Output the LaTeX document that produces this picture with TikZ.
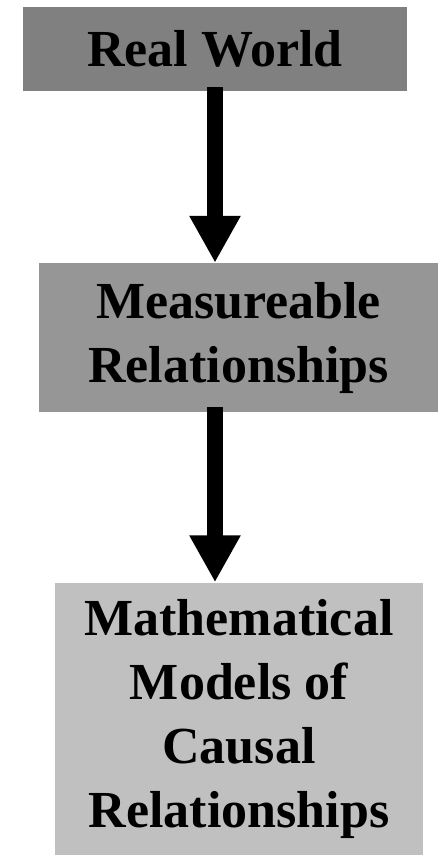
\documentclass[tikz,border=0pt]{standalone}
\usepackage{fontspec}
\setmainfont{Liberation Serif}
\usetikzlibrary{arrows.meta}
\definecolor{worldgray}{RGB}{128,128,128}
\definecolor{measgray}{RGB}{150,150,150}
\definecolor{modelgray}{RGB}{192,192,192}

\begin{document}
\begin{tikzpicture}[x=1pt, y=-1pt,
  gbox/.style={inner sep=0pt, align=center, font=\fontsize{52}{64}\selectfont\bfseries},
  fatarrow/.style={line width=16pt, -{Triangle[length=47pt, width=48pt]}}
]
  \useasboundingbox (0,0) rectangle (438,855);

  \node[gbox, fill=worldgray, minimum width=384pt, minimum height=84pt] (world) at (215, 49) {Real World};
  \node[gbox, fill=measgray, minimum width=399pt, minimum height=149pt] (meas) at (238.5, 337.5) {Measureable\\Relationships};
  \node[gbox, fill=modelgray, minimum width=368pt, minimum height=273pt] (model) at (239, 719) {Mathematical\\Models of\\Causal\\Relationships};

  \draw[fatarrow, shorten <=-4pt] (world.south) -- (world.south |- meas.north);
  \draw[fatarrow, shorten <=-5pt] (meas.south -| world.south) -- (world.south |- model.north);
\end{tikzpicture}
\end{document}
